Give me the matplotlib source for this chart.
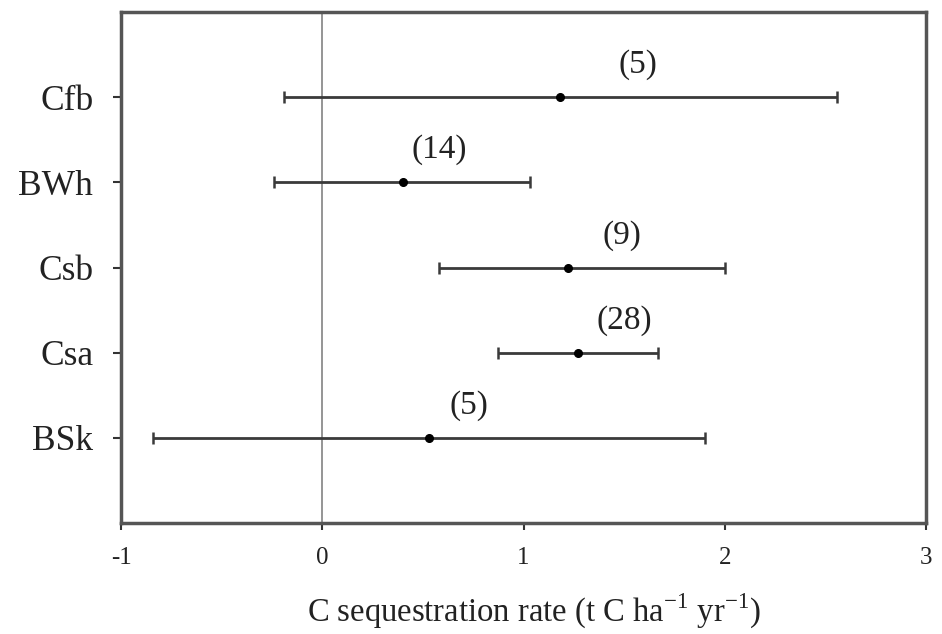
import numpy as np
import matplotlib
matplotlib.use("Agg")
import matplotlib.pyplot as plt

plt.rcParams['font.family'] = ['Liberation Serif', 'DejaVu Serif']
plt.rcParams['mathtext.fontset'] = 'custom'
plt.rcParams['mathtext.rm'] = 'Liberation Serif'
plt.rcParams['axes.unicode_minus'] = False

# climate zones, bottom to top
zones = ['BSk', 'Csa', 'Csb', 'BWh', 'Cfb']
mean_rate = [0.53, 1.27, 1.22, 0.40, 1.18]
ci_low = [-0.84, 0.875, 0.58, -0.24, -0.19]
ci_high = [1.90, 1.67, 2.00, 1.03, 2.56]
n_obs = ['(5)', '(28)', '(9)', '(14)', '(5)']
# label anchor (x in data units)
label_x = [0.73, 1.50, 1.49, 0.58, 1.57]

ypos = np.arange(1, len(zones) + 1)
mean_rate = np.array(mean_rate)
err = np.vstack([mean_rate - np.array(ci_low), np.array(ci_high) - mean_rate])

fig = plt.figure(figsize=(9.42, 6.34), dpi=100)
ax = fig.add_axes([0.1285, 0.175, 0.8545, 0.806])

ax.axvline(0, color='#8c8c8c', lw=1.3, zorder=1)
ax.errorbar(mean_rate, ypos, xerr=err, fmt='o', color='black', ms=5.5,
            ecolor='#3a3a3a', elinewidth=2.0, capsize=4.5, capthick=1.8, zorder=3)

for x, y, s in zip(label_x, ypos, n_obs):
    ax.text(x, y + 0.38, s, ha='center', va='center', fontsize=24, color='#222222')

ax.set_xlim(-1, 3)
ax.set_ylim(0, 6)
ax.set_xticks([-1, 0, 1, 2, 3])
ax.set_yticks(ypos)
ax.set_yticklabels(zones, fontsize=25.5)
ax.tick_params(axis='x', labelsize=18, length=5, width=1.5, colors='#333333', pad=12)
ax.tick_params(axis='y', length=6, width=1.5, colors='#333333', pad=14)
for lab in ax.get_yticklabels() + ax.get_xticklabels():
    lab.set_color('#222222')

for sp in ax.spines.values():
    sp.set_linewidth(2.5)
    sp.set_color('#555555')

ax.set_xlabel('C sequestration rate (t C ha$^{\\mathrm{-1}}$ yr$^{\\mathrm{-1}}$)',
              fontsize=23.5, color='#222222', labelpad=16)
ax.xaxis.set_label_coords(0.513, -0.135)

fig.savefig('out.png', dpi=100)
